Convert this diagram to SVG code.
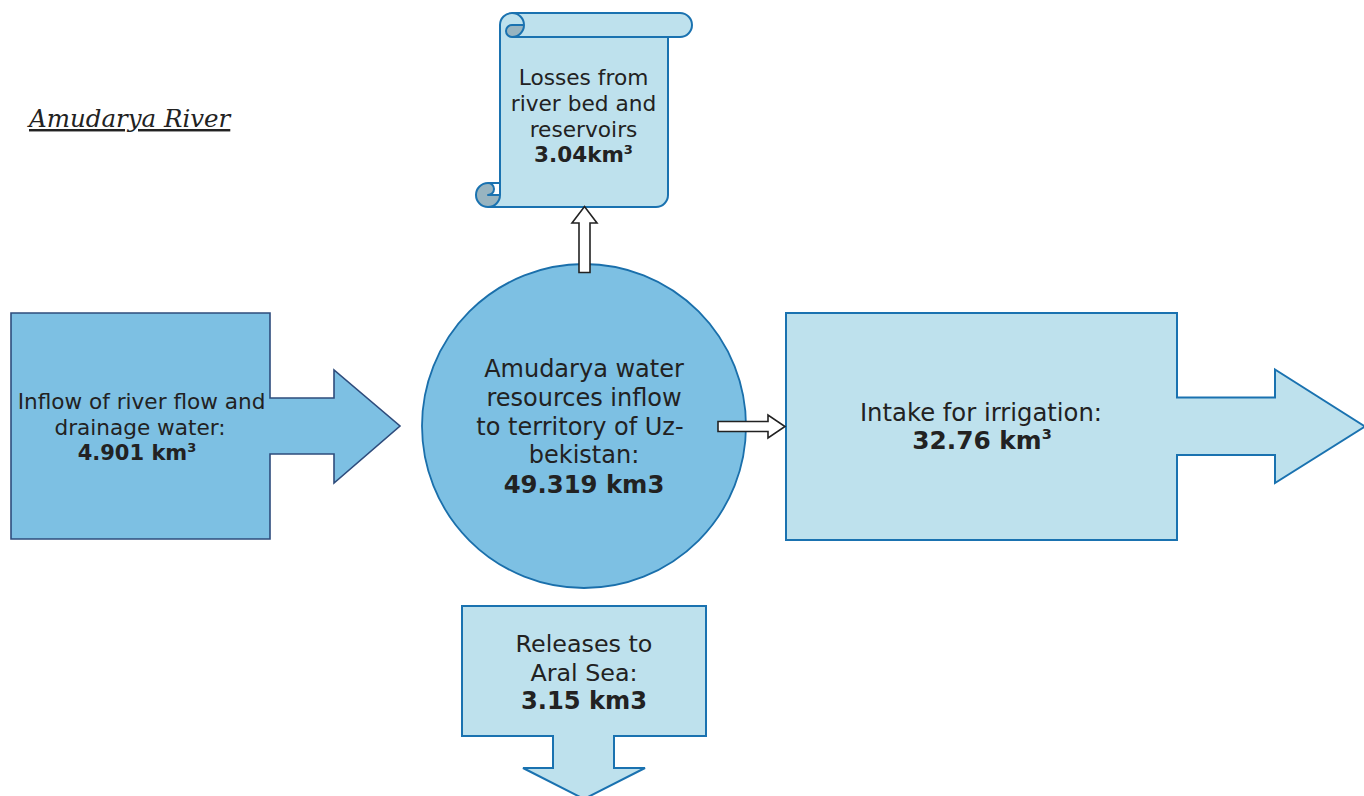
<svg xmlns="http://www.w3.org/2000/svg" width="1364" height="796" viewBox="0 0 1364 796">
<style>
  .t { font-family: "DejaVu Sans", Verdana, sans-serif; fill: #222; text-anchor: middle; }
  .b { font-weight: bold; }
  .mid { fill: #7dc0e3; }
  .light { fill: #bee1ed; }
  .edge { stroke: #1a72b0; stroke-width: 2; }
  .navy { stroke: #2e4c7c; stroke-width: 1.6; }
  .conn { fill: #ffffff; stroke: #222; stroke-width: 1.6; stroke-linejoin: miter; }
</style>
<rect width="1364" height="796" fill="#ffffff"/>

<text id="title" x="29" y="127" font-family="DejaVu Serif, Liberation Serif, serif" font-style="italic" font-size="24.5" fill="#222" text-decoration="underline">Amudarya River</text>

<g id="losses">
  <path class="light" d="M 488,207 A 12 12 0 0 0 500,195 L 500,25 A 12 12 0 0 1 512,13 L 680,13 A 12 12 0 0 1 680,37 L 668,37 L 668,195 A 12 12 0 0 1 656,207 Z"/>
  <path fill="#98b4c0" d="M 524,25 A 12 12 0 0 1 512,37 A 6 6 0 0 1 512,25 Z M 500,195 A 12 12 0 1 1 488,183 A 6 6 0 0 1 488,195 Z"/>
  <path fill="none" class="edge" stroke-linejoin="round" d="M 500,183 L 500,25 A 12 12 0 0 1 512,13 L 680,13 A 12 12 0 0 1 680,37 L 668,37 L 668,195 A 12 12 0 0 1 656,207 L 488,207 A 12 12 0 0 1 488,183 Z M 512,13 A 12 12 0 0 1 512,37 A 6 6 0 0 1 512,25 L 524,25 M 668,37 L 512,37 M 488,183 A 6 6 0 0 1 488,195 L 500,195 M 488,207 A 12 12 0 0 0 500,195 L 500,183"/>
  <text class="t" x="583.5" y="85" font-size="21.7">Losses from</text>
  <text class="t" x="583.5" y="111" font-size="21.7">river bed and</text>
  <text class="t" x="583.5" y="137" font-size="21.7">reservoirs</text>
  <text class="t b" x="583.5" y="162" font-size="21.5">3.04km<tspan font-size="13" dy="-8.5">3</tspan></text>
</g>

<g id="inflow">
  <path class="mid navy" d="M 11,313 L 270,313 L 270,398 L 334,398 L 334,370 L 400,426 L 334,483 L 334,454 L 270,454 L 270,539 L 11,539 Z"/>
  <text class="t" x="141.5" y="409" font-size="21.6">Inflow of river flow and</text>
  <text class="t" x="140" y="435" font-size="21.6">drainage water:</text>
  <text class="t b" x="137" y="460" font-size="21">4.901 km<tspan font-size="13" dy="-8.5">3</tspan></text>
</g>

<g id="resources">
  <circle class="mid" cx="584" cy="426" r="162" stroke="#1a6fab" stroke-width="1.8"/>
  <text class="t" x="584" y="377" font-size="24">Amudarya water</text>
  <text class="t" x="584" y="406" font-size="24">resources inflow</text>
  <text class="t" x="580" y="435" font-size="24">to territory of Uz-</text>
  <text class="t" x="584" y="463" font-size="24">bekistan:</text>
  <text class="t b" x="584" y="493" font-size="24.3">49.319 km3</text>
</g>

<g id="irrigation">
  <path class="light edge" d="M 786,313 L 1177,313 L 1177,397.5 L 1275,397.5 L 1275,369.5 L 1365,426.5 L 1275,483 L 1275,455 L 1177,455 L 1177,540 L 786,540 Z"/>
  <text class="t" x="981" y="421" font-size="24.3">Intake for irrigation:</text>
  <text class="t b" x="982" y="449" font-size="24.8">32.76 km<tspan font-size="14.5" dy="-10">3</tspan></text>
</g>

<g id="releases">
  <path class="light edge" d="M 462,606 L 706,606 L 706,736 L 614,736 L 614,768 L 645,768 L 584,799 L 523,768 L 553,768 L 553,736 L 462,736 Z"/>
  <text class="t" x="584" y="652" font-size="23.8">Releases to</text>
  <text class="t" x="584" y="681" font-size="23.8">Aral Sea:</text>
  <text class="t b" x="584" y="709" font-size="24.2">3.15 km3</text>
</g>

<g id="connectors">
  <path class="conn" d="M 579,272.5 L 579,223 L 572,223 L 584.5,206.5 L 597,223 L 590,223 L 590,272.5 Z"/>
  <path class="conn" d="M 718,421.5 L 768,421.5 L 768,415 L 785,426.5 L 768,438 L 768,431.5 L 718,431.5 Z"/>
</g>
</svg>
